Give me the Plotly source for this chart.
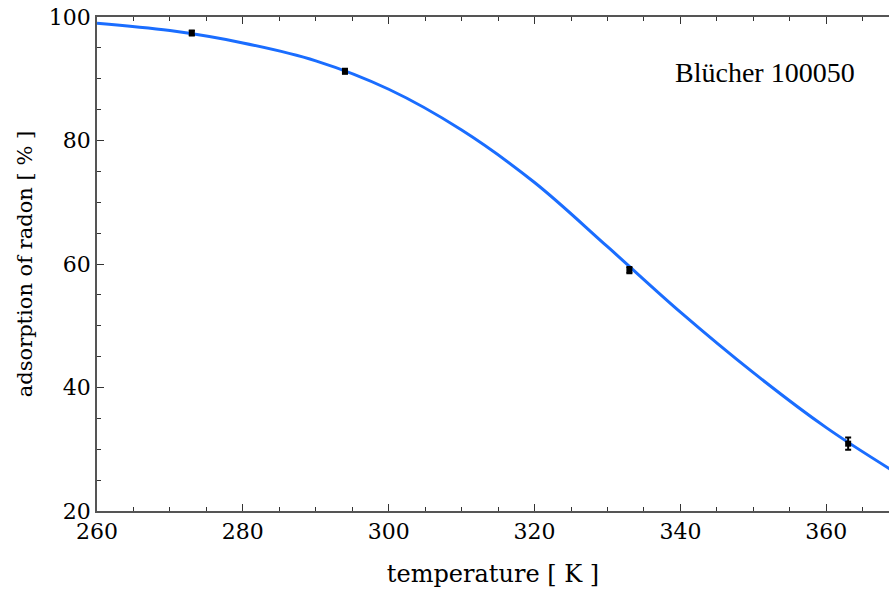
import plotly.graph_objects as go

# measured adsorption points
temp_meas = [273, 294, 333, 363]
ads_meas = [97.4, 91.2, 59.0, 30.9]
ads_err = [0.4, 0.4, 0.5, 1.0]

# fitted adsorption curve
temp_fit = [260, 270, 280, 290, 300, 310, 320, 330, 340, 350, 360, 369]
ads_fit = [99.0, 97.8, 95.8, 92.9, 88.3, 81.7, 73.2, 62.8, 52.2, 42.4, 33.5, 26.6]

x_ticks = [260, 280, 300, 320, 340, 360]
y_ticks = [20, 40, 60, 80, 100]

serif = "DejaVu Serif"

fig = go.Figure()
fig.add_trace(go.Scatter(
    x=temp_fit, y=ads_fit, mode="lines",
    line=dict(color="#1a6dff", width=3, shape="spline", smoothing=1.0),
    hoverinfo="skip", showlegend=False,
))
fig.add_trace(go.Scatter(
    x=temp_meas, y=ads_meas, mode="markers",
    marker=dict(symbol="square", size=6, color="black"),
    error_y=dict(type="data", array=ads_err, color="black", thickness=2, width=3),
    showlegend=False,
))

axis_common = dict(
    showgrid=False, zeroline=False, showline=True, linecolor="#555555", linewidth=1.5,
    ticks="inside", ticklen=7, tickcolor="#333333", tickwidth=1,
    tickfont=dict(family=serif, size=22, color="black"),
)

fig.update_xaxes(
    **axis_common, mirror="ticks", range=[260, 368.6], tickvals=x_ticks,
    minor=dict(dtick=5, tick0=260, ticks="inside", ticklen=4, tickcolor="#333333"),
    title=dict(text="temperature [ K ]", font=dict(family=serif, size=24, color="black"), standoff=22),
)
fig.update_yaxes(
    **axis_common, mirror=False, range=[20, 100], tickvals=y_ticks,
    minor=dict(dtick=5, tick0=20, ticks="inside", ticklen=4, tickcolor="#333333"),
    title=dict(text="adsorption of radon [ % ]", font=dict(family=serif, size=21, color="black"), standoff=10),
)

fig.add_annotation(
    x=0.843, y=0.887, xref="paper", yref="paper", xanchor="center", yanchor="middle",
    text="Blücher 100050", showarrow=False,
    font=dict(family="Liberation Serif", size=28, color="black"),
)

fig.update_layout(
    width=889, height=594,
    margin=dict(l=97, r=0, t=17, b=83),
    plot_bgcolor="white", paper_bgcolor="white",
)

fig.write_html("out.html")
